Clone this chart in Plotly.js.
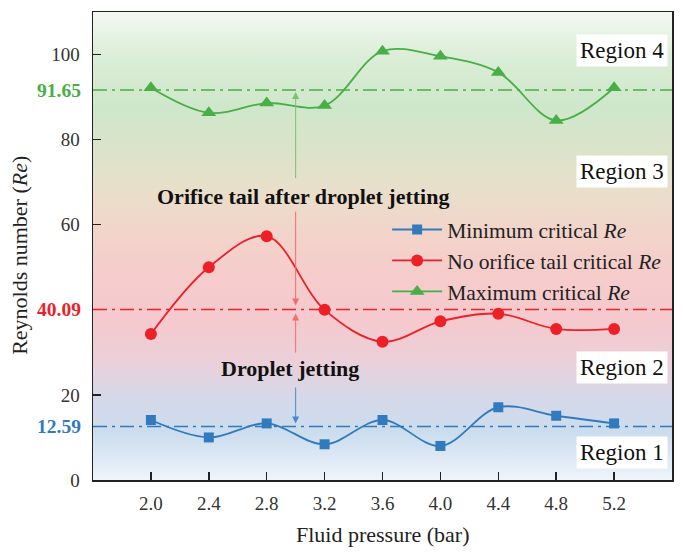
<!DOCTYPE html>
<html><head><meta charset="utf-8">
<script src="https://cdn.plot.ly/plotly-3.0.1.min.js"></script>
<style>
html,body{margin:0;padding:0;background:#fff;}
#wrap{position:relative;width:685px;height:556px;}
#bg{position:absolute;left:93px;top:12px;width:579px;height:468px;
background:linear-gradient(to bottom,
 rgb(243,249,243) 0%, rgb(220,238,216) 9%, rgb(206,231,202) 20%, rgb(219,227,202) 30%,
 rgb(233,223,202) 38%, rgb(242,212,202) 47%, rgb(246,204,203) 56%, rgb(245,201,206) 66%,
 rgb(236,207,216) 74%, rgb(214,216,232) 82%, rgb(203,221,238) 90%, rgb(238,244,250) 100%);}
#chart{position:absolute;left:0;top:0;width:685px;height:556px;}
</style></head>
<body><div id="wrap"><div id="bg"></div><div id="chart"></div></div>
<script>
// ---- data ----
const pressure = [2.0, 2.4, 2.8, 3.2, 3.6, 4.0, 4.4, 4.8, 5.2];
const xTickText = ['2.0','2.4','2.8','3.2','3.6','4.0','4.4','4.8','5.2'];
const reMin    = [14.1, 10.0, 13.3, 8.4, 14.1, 8.0, 17.1, 15.1, 13.3];
const reNoTail = [34.3, 50.0, 57.3, 40.0, 32.5, 37.3, 39.1, 35.5, 35.5];
const reMax    = [92.2, 86.3, 88.6, 88.0, 100.8, 99.6, 95.8, 84.5, 92.2];
const seriesNames = ['Minimum critical <i>Re</i>', 'No orifice tail critical <i>Re</i>', 'Maximum critical <i>Re</i>'];
const thresholds = [12.59, 40.09, 91.65];
const thresholdText = ['12.59', '40.09', '91.65'];
const yTickVals = [0, 20, 60, 80, 100];
const yTickText = ['0', '20', '60', '80', '100'];
const regionNames = ['Region 1', 'Region 2', 'Region 3', 'Region 4'];
const noteTexts = ['Orifice tail after droplet jetting', 'Droplet jetting'];

// ---- styles / layout config ----
const FONT = "'Liberation Serif','Times New Roman',serif";
const colors = ['rgb(50,122,190)', 'rgb(236,32,38)', 'rgb(72,174,70)'];
const arrowColors = ['rgb(70,140,205)', 'rgb(240,110,110)', 'rgb(120,195,110)'];
const symbols = ['square', 'circle', 'triangle-up'];
const msizes = [10, 12, 13];
const regionY = [6.4, 26.5, 72.5, 101];
const noteX = [3.05, 2.96], noteY = [66.6, 26.3];
const arrowX = 3.0;

const series = [reMin, reNoTail, reMax];
const traces = series.map((ys, i) => ({
  x: pressure, y: ys, type: 'scatter', mode: 'lines+markers', name: seriesNames[i],
  line: {color: colors[i], width: 1.8, shape: 'spline', smoothing: 1},
  marker: {color: colors[i], symbol: symbols[i], size: msizes[i]}
}));

const shapes = thresholds.map((t, i) => ({
  type: 'line', xref: 'paper', x0: 0, x1: 1, yref: 'y', y0: t, y1: t,
  line: {color: colors[i], width: 1.5, dash: '14px,5px,3px,5px'}
}));

const annotations = [];
thresholds.forEach((t, i) => annotations.push({
  xref: 'paper', x: 0, xanchor: 'right', xshift: -10, yref: 'y', y: t, yanchor: 'middle',
  text: '<b>' + thresholdText[i] + '</b>', showarrow: false,
  font: {family: FONT, size: 19.5, color: colors[i]}
}));
regionNames.forEach((r, i) => annotations.push({
  xref: 'paper', x: 0.993, xanchor: 'right', yref: 'y', y: regionY[i], yanchor: 'middle',
  text: r, showarrow: false, bgcolor: '#ffffff', borderpad: 3,
  font: {family: FONT, size: 23, color: '#111'}
}));
noteTexts.forEach((n, i) => annotations.push({
  xref: 'x', x: noteX[i], yref: 'y', y: noteY[i], text: '<b>' + n + '</b>', showarrow: false,
  font: {family: FONT, size: 22, color: '#111'}
}));
// arrows: [tipValue, tailY, color index, standoff]
const arrows = [[thresholds[2], 70.6, 2, 2], [thresholds[1], 63.4, 1, 4], [thresholds[1], 29.6, 1, 4], [thresholds[0], 22.1, 0, 3]];
arrows.forEach(a => annotations.push({
  xref: 'x', yref: 'y', x: arrowX, y: a[0], axref: 'x', ayref: 'y', ax: arrowX, ay: a[1],
  text: '', showarrow: true, arrowhead: 2, arrowsize: 1.4, arrowwidth: 1,
  arrowcolor: arrowColors[a[2]], standoff: a[3]
}));
annotations.push({xref: 'paper', x: 0.5, xanchor: 'center', yref: 'paper', y: -0.1175, yanchor: 'middle',
  text: 'Fluid pressure (bar)', showarrow: false, font: {family: FONT, size: 22, color: '#222'}});
annotations.push({xref: 'paper', x: -0.126, xanchor: 'center', yref: 'paper', y: 0.479, yanchor: 'middle', textangle: -90,
  text: 'Reynolds number (<i>Re</i>)', showarrow: false, font: {family: FONT, size: 22, color: '#222'}});

const layout = {
  width: 685, height: 556,
  margin: {l: 93, r: 13, t: 12, b: 76},
  paper_bgcolor: 'rgba(0,0,0,0)', plot_bgcolor: 'rgba(0,0,0,0)',
  font: {family: FONT, size: 19, color: '#333'},
  showlegend: true,
  legend: {x: 0.508, xanchor: 'left', y: 0.579, yanchor: 'top', bgcolor: 'rgba(0,0,0,0)',
    font: {family: FONT, size: 21.5, color: '#222'}, itemwidth: 50, tracegroupgap: 0},
  xaxis: {range: [1.6, 5.6], tickvals: pressure, ticktext: xTickText, ticks: 'inside', ticklen: 8,
    tickwidth: 1.5, tickcolor: '#222', showline: true, linecolor: '#222', linewidth: 1.5, mirror: true,
    showgrid: false, zeroline: false, ticklabelstandoff: 6, tickfont: {family: FONT, size: 19, color: '#333'}},
  yaxis: {range: [0, 110], tickvals: yTickVals, ticktext: yTickText, ticks: 'inside', ticklen: 8,
    tickwidth: 1.5, tickcolor: '#222', showline: true, linecolor: '#222', linewidth: 1.5, mirror: true,
    showgrid: false, zeroline: false, ticklabelstandoff: 8, tickfont: {family: FONT, size: 19, color: '#333'}},
  shapes: shapes, annotations: annotations
};
Plotly.newPlot('chart', traces, layout, {displayModeBar: false, staticPlot: true});
</script></body></html>
